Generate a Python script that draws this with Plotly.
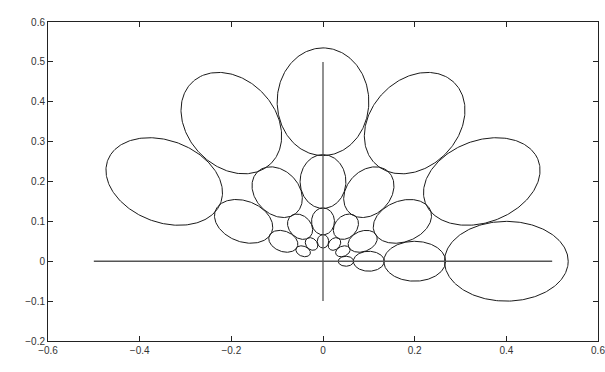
import numpy as np
import plotly.graph_objects as go

# Ellipse families: one ellipse per (ring, direction)
ring_radius = [0.05, 0.1, 0.2, 0.4]
semi_major = [0.016875, 0.03375, 0.0675, 0.135]   # radial half-axis
semi_minor = [0.0125, 0.025, 0.05, 0.1]           # tangential half-axis
direction_deg = [0, 30, 60, 90, 120, 150]

# Reference lines
hline_x = [-0.5, 0.5]
hline_y = [0.0, 0.0]
vline_x = [0.0, 0.0]
vline_y = [-0.1, 0.5]

x_ticks = [-0.6, -0.4, -0.2, 0, 0.2, 0.4, 0.6]
y_ticks = [-0.2, -0.1, 0, 0.1, 0.2, 0.3, 0.4, 0.5, 0.6]

fig = go.Figure()

t = np.linspace(0, 2 * np.pi, 241)
for r, a, b in zip(ring_radius, semi_major, semi_minor):
    for d in direction_deg:
        th = np.deg2rad(d)
        cx, cy = r * np.cos(th), r * np.sin(th)
        u = a * np.cos(t)
        v = b * np.sin(t)
        xs = cx + u * np.cos(th) - v * np.sin(th)
        ys = cy + u * np.sin(th) + v * np.cos(th)
        fig.add_trace(go.Scatter(x=xs, y=ys, mode="lines",
                                 line=dict(color="#1a1a1a", width=1),
                                 hoverinfo="skip", showlegend=False))

fig.add_trace(go.Scatter(x=hline_x, y=hline_y, mode="lines",
                         line=dict(color="#555555", width=1.3),
                         hoverinfo="skip", showlegend=False))
fig.add_trace(go.Scatter(x=vline_x, y=vline_y, mode="lines",
                         line=dict(color="#555555", width=1.3),
                         hoverinfo="skip", showlegend=False))

axis_common = dict(
    showgrid=False, zeroline=False,
    showline=True, linecolor="#222222", linewidth=1,
    mirror="allticks", ticks="inside", ticklen=5, tickcolor="#222222",
    ticklabeloverflow="allow", automargin=False,
    tickfont=dict(family="Liberation Sans, Arial, sans-serif", size=10, color="#333333"),
)

def fmt(v):
    return ("\u2212" if v < 0 else "") + f"{abs(v):g}"

fig.update_xaxes(range=[-0.6000001, 0.6000001], tickvals=x_ticks,
                 ticktext=[fmt(v) for v in x_ticks], **axis_common)
fig.update_yaxes(range=[-0.2000001, 0.6000001], tickvals=y_ticks,
                 ticktext=[fmt(v) for v in y_ticks], **axis_common)

fig.update_layout(
    width=605, height=372,
    margin=dict(l=48, r=7, t=22, b=31, autoexpand=False),
    paper_bgcolor="white", plot_bgcolor="white",
    showlegend=False,
)

fig.write_html("out.html")
